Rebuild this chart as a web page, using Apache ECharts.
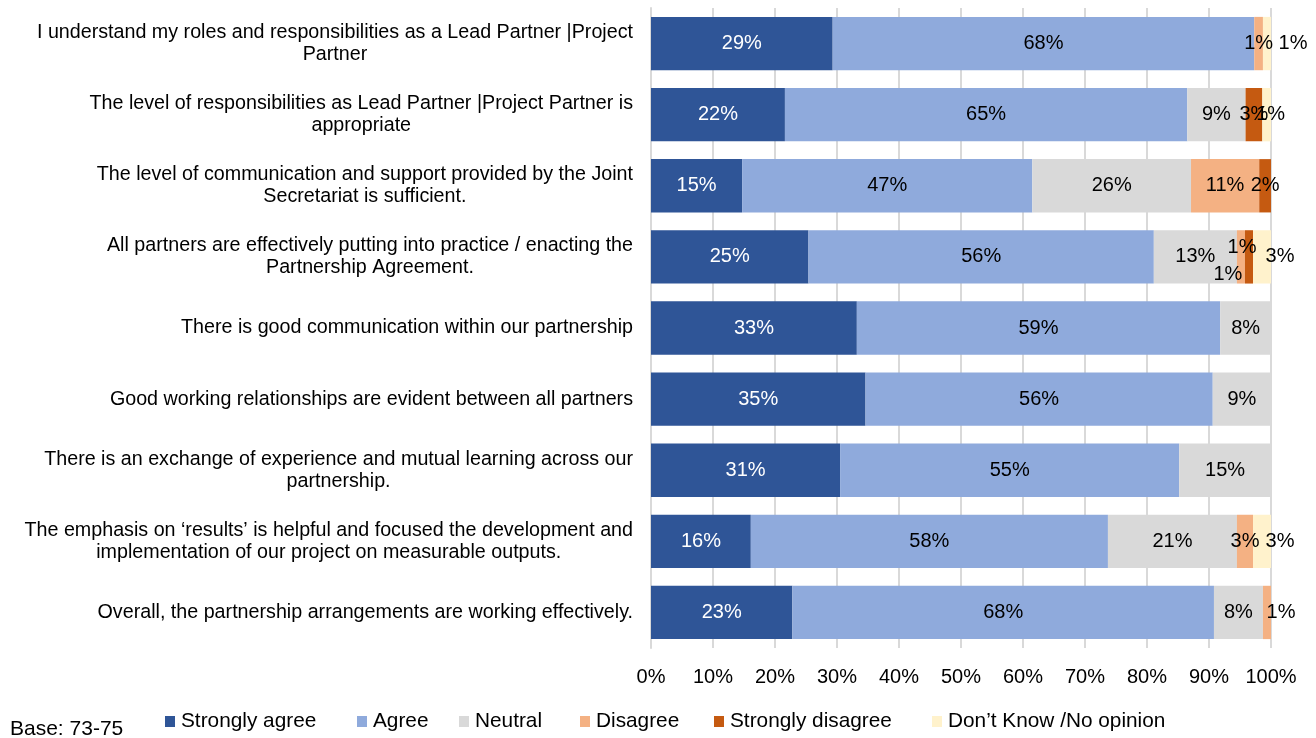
<!DOCTYPE html>
<html>
<head>
<meta charset="utf-8">
<script src="https://cdn.jsdelivr.net/npm/echarts@6/dist/echarts.min.js"></script>
<style>
  html, body { margin: 0; padding: 0; background: #ffffff; }
  #chart { width: 1316px; height: 738px; }
</style>
</head>
<body>
<div id="chart"></div>
<script>
// Survey statements (top to bottom)
const categories = [
  'I understand my roles and responsibilities as a Lead Partner |Project\nPartner',
  'The level of responsibilities as Lead Partner |Project Partner is\nappropriate',
  'The level of communication and support provided by the Joint\nSecretariat is sufficient.',
  'All partners are effectively putting into practice / enacting the\nPartnership Agreement.',
  'There is good communication within our partnership',
  'Good working relationships are evident between all partners',
  'There is an exchange of experience and mutual learning across our\npartnership.',
  'The emphasis on \u2018results\u2019 is helpful and focused the development and\nimplementation of our project on measurable outputs.',
  'Overall, the partnership arrangements are working effectively.'
];

// Share of responses (%) per answer option
const stronglyAgree    = [29.3, 21.6, 14.7, 25.4, 33.2, 34.6, 30.5, 16.1, 22.8];
const agree            = [68.0, 64.9, 46.8, 55.7, 58.6, 56.0, 54.7, 57.6, 68.0];
const neutral          = [0,     9.4, 25.6, 13.4,  8.2,  9.4, 14.8, 20.8,  7.9];
const disagree         = [1.4,   0,   11.0,  1.3,  0,    0,    0,    2.6,  1.3];
const stronglyDisagree = [0,     2.7,  1.9,  1.3,  0,    0,    0,    0,    0];
const dontKnow         = [1.3,   1.4,  0,    2.9,  0,    0,    0,    2.9,  0];

const seriesNames = ['Strongly agree', 'Agree', 'Neutral', 'Disagree', 'Strongly disagree', 'Don\u2019t Know /No opinion'];
const tickLabels = ['0%', '10%', '20%', '30%', '40%', '50%', '60%', '70%', '80%', '90%', '100%'];
const baseNote = 'Base: 73-75';

const FONT = '"Liberation Sans", Arial, sans-serif';
const colors = ['#2F5597', '#8FAADC', '#D9D9D9', '#F4B183', '#C55A11', '#FFF2CC'];
const labelColors = ['#ffffff', '#000000', '#000000', '#000000', '#000000', '#000000'];

// Nudges for crowded small-segment labels: series index -> {row: [dx, dy]}
const labelNudge = {
  3: { 3: [-13, 18], 8: [14, 0] },
  4: { 3: [-7, -9] },
  5: { 0: [26, 0], 1: [4, 0], 3: [18, 0], 7: [18, 0] }
};

// Left edge of each legend entry
const legendLeft = [165, 357, 459, 580, 714, 932];

const valueSets = [stronglyAgree, agree, neutral, disagree, stronglyDisagree, dontKnow];

const series = valueSets.map((vals, s) => ({
  name: seriesNames[s],
  type: 'bar',
  stack: 'total',
  barCategoryGap: '25%',
  itemStyle: { color: colors[s] },
  emphasis: { disabled: true },
  label: {
    show: true,
    position: 'inside',
    color: labelColors[s],
    fontFamily: FONT,
    fontSize: 20,
    formatter: p => (p.value > 0 ? Math.round(p.value) + '%' : '')
  },
  data: vals.map((v, i) => {
    const nudge = labelNudge[s] && labelNudge[s][i];
    return nudge ? { value: v, label: { offset: nudge } } : v;
  })
}));

const legends = seriesNames.map((name, s) => ({
  data: [name],
  left: legendLeft[s],
  top: 711,
  icon: 'rect',
  itemWidth: 10,
  itemHeight: 11,
  itemGap: 0,
  padding: 0,
  selectedMode: false,
  textStyle: { color: '#000000', fontFamily: FONT, fontSize: 20.8, padding: [0, 0, 0, 1] }
}));

const chart = echarts.init(document.getElementById('chart'), null, { renderer: 'canvas' });
chart.setOption({
  animation: false,
  backgroundColor: '#ffffff',
  textStyle: { fontFamily: FONT },
  grid: { left: 651, right: 45, top: 8, bottom: 90, containLabel: false },
  xAxis: {
    type: 'value',
    min: 0,
    max: 100,
    interval: 10,
    axisLine: { show: false },
    axisTick: { show: false },
    splitLine: { show: true, lineStyle: { color: '#D9D9D9', width: 2 } },
    axisLabel: {
      color: '#000000',
      fontFamily: FONT,
      fontSize: 20,
      margin: 19,
      formatter: v => tickLabels[Math.round(v / 10)]
    }
  },
  yAxis: {
    type: 'category',
    inverse: true,
    data: categories,
    axisLine: { show: true, lineStyle: { color: '#D9D9D9', width: 2 } },
    axisTick: { show: false },
    axisLabel: {
      margin: 18,
      color: '#000000',
      fontFamily: FONT,
      fontSize: 19.7,
      lineHeight: 22,
      formatter: v => v.split('\n').map(line => '{c|' + line + '}').join('\n'),
      rich: {
        c: { align: 'center', color: '#000000', fontFamily: FONT, fontSize: 19.7, lineHeight: 22 }
      }
    }
  },
  legend: legends,
  graphic: [{
    type: 'text',
    left: 10,
    top: 719,
    style: { text: baseNote, fill: '#000000', font: '21px ' + FONT }
  }],
  series: series
});
</script>
</body>
</html>
